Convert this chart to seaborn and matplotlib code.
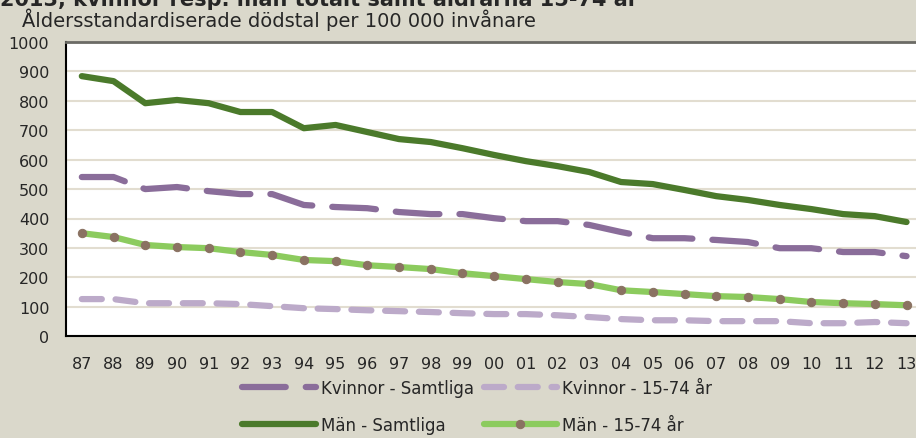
import numpy as np
import pandas as pd
import matplotlib
matplotlib.use('Agg')
import matplotlib.pyplot as plt
import seaborn as sns

# data
years = ['87', '88', '89', '90', '91', '92', '93', '94', '95', '96', '97', '98', '99',
         '00', '01', '02', '03', '04', '05', '06', '07', '08', '09', '10', '11', '12', '13']

kvinnor_samtliga = [541, 541, 500, 507, 493, 483, 483, 446, 439, 435, 422, 415, 415,
                    401, 391, 391, 378, 354, 333, 333, 327, 320, 299, 299, 286, 286, 272]
kvinnor_1574 = [126, 126, 112, 112, 112, 109, 102, 95, 92, 88, 85, 82, 78,
                75, 75, 71, 65, 58, 54, 54, 51, 51, 51, 44, 44, 48, 44]
man_samtliga = [884, 867, 792, 803, 792, 762, 762, 707, 718, 694, 670, 660, 639,
                616, 595, 578, 558, 524, 517, 497, 476, 463, 446, 432, 415, 408, 388]
man_1574 = [350, 337, 310, 303, 299, 286, 276, 259, 255, 241, 235, 228, 214,
            204, 194, 184, 177, 156, 150, 143, 136, 133, 126, 116, 112, 109, 105]

bg = '#dad8cb'
sns.set_style('white')
plt.rcParams['font.family'] = ['DejaVu Sans']

fig = plt.figure(figsize=(9.16, 4.39), dpi=100, facecolor=bg)
ax = fig.add_axes([0.072, 0.232, 0.935, 0.670])
ax.set_facecolor('white')

x = np.arange(len(years))

sns.lineplot(x=x, y=kvinnor_samtliga, ax=ax, color='#8a6d9a', lw=4.5, label='Kvinnor - Samtliga')
ax.lines[-1].set_dashes([7, 3.2])
ax.lines[-1].set_dash_capstyle('round')

sns.lineplot(x=x, y=kvinnor_1574, ax=ax, color='#bcaac9', lw=4.5, label='Kvinnor - 15-74 år')
ax.lines[-1].set_dashes([3.2, 2.2])
ax.lines[-1].set_dash_capstyle('round')

sns.lineplot(x=x, y=man_samtliga, ax=ax, color='#4b7a2b', lw=4.5, label='Män - Samtliga')
ax.lines[-1].set_solid_capstyle('round')

sns.lineplot(x=x, y=man_1574, ax=ax, color='#8ccb5e', lw=4.5, marker='o', markersize=6,
             markerfacecolor='#8a7262', markeredgecolor='#8a7262', label='Män - 15-74 år')
ax.lines[-1].set_solid_capstyle('round')

ax.set_xlim(-0.5, len(years) - 0.5)
ax.set_ylim(0, 1000)
ax.set_yticks(range(0, 1001, 100))
ax.set_xticks(x)
ax.set_xticklabels(years)
ax.set_xticks(np.arange(-0.5, len(years), 1), minor=True)
ax.tick_params(axis='x', which='major', length=0, pad=14, labelsize=11.5)
ax.tick_params(axis='x', which='minor', length=5, width=1, color='black', direction='in')
ax.tick_params(axis='y', length=0, pad=12, labelsize=11.5)
ax.grid(axis='y', color='#e2ddd0', lw=1.5)
ax.set_axisbelow(True)

for s in ['left', 'bottom']:
    ax.spines[s].set_color('black')
    ax.spines[s].set_linewidth(1.5)
ax.spines['top'].set_color('#6b6b65')
ax.spines['top'].set_linewidth(2)
ax.spines['right'].set_visible(False)

ax.set_xlabel('')
ax.set_ylabel('')

# row-wise legend order like the reference
h, l = ax.get_legend_handles_labels()
order = [0, 2, 1, 3]
leg = ax.legend([h[i] for i in order], [l[i] for i in order],
                loc='center', bbox_to_anchor=(0.521, 0.072), bbox_transform=fig.transFigure,
                ncol=2, frameon=False, fontsize=12, handlelength=4.4, handletextpad=0.3,
                columnspacing=0.6, labelspacing=1.1)

fig.text(0.0, 1.005, '2013, kvinnor resp. män totalt samt åldrarna 15-74 år',
         fontsize=15, fontweight='bold', ha='left', va='center')
fig.text(0.024, 0.955, 'Åldersstandardiserade dödstal per 100 000 invånare',
         fontsize=14, ha='left', va='center')

fig.savefig('out.png', dpi=100, facecolor=bg)
